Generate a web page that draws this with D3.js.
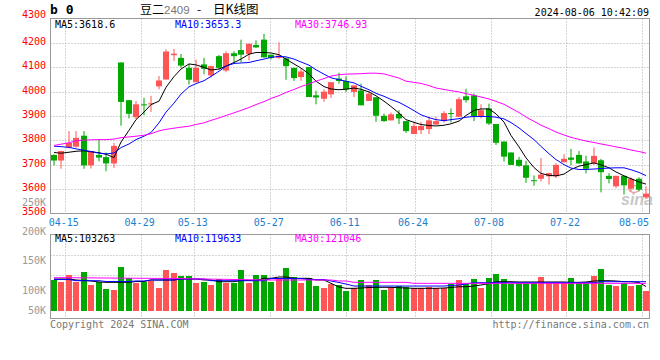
<!DOCTYPE html>
<html><head><meta charset="utf-8">
<script src="https://cdn.jsdelivr.net/npm/d3@7"></script>
<style>body{margin:0;background:#fff}</style>
</head><body><svg id="c" width="660" height="360"></svg>
<script>
const dates = ["04-11","04-12","04-15","04-16","04-17","04-18","04-19","04-22","04-23","04-24","04-25","04-26","04-29","04-30",
"05-06","05-07","05-08","05-09","05-10","05-13","05-14","05-15","05-16","05-17","05-20","05-21","05-22","05-23","05-24","05-27","05-28","05-29","05-30","05-31",
"06-03","06-04","06-05","06-06","06-07","06-11","06-12","06-13","06-14","06-17","06-18","06-19","06-20","06-21","06-24","06-25","06-26","06-27","06-28",
"07-01","07-02","07-03","07-04","07-05","07-08","07-09","07-10","07-11","07-12","07-15","07-16","07-17","07-18","07-19","07-22","07-23","07-24","07-25","07-26","07-29","07-30","07-31",
"08-01","08-02","08-05","08-06"];
const open  = [3740,3717,3771,3774,3819,3697,3740,3731,3705,4120,3965,3895,3948,3949,4022,4050,4150,4139,4098,4039,4112,4067,4146,4087,4158,4171,4155,4192,4214,4152,4139,4137,4098,4060,4101,3985,3971,3989,4054,4044,3999,4005,3962,3977,3901,3882,3909,3879,3826,3842,3846,3865,3879,3912,3897,3981,3985,3899,3931,3867,3795,3750,3720,3697,3636,3642,3652,3652,3710,3729,3740,3713,3706,3718,3654,3611,3654,3601,3642,3566];
const high  = [3742,3757,3838,3838,3838,3757,3805,3750,3790,4121,3966,3961,3975,3983,4065,4174,4176,4155,4114,4132,4139,4107,4151,4166,4166,4214,4197,4211,4238,4152,4203,4141,4098,4094,4101,4004,4010,4039,4078,4063,4026,4033,4003,3977,3910,3914,3924,3879,3876,3876,3897,3897,3920,3931,3978,4012,3992,3948,3951,3867,3795,3750,3732,3716,3656,3727,3667,3706,3743,3765,3756,3737,3771,3724,3665,3654,3654,3648,3648,3611];
const low   = [3697,3683,3767,3770,3683,3684,3713,3673,3687,3860,3890,3887,3903,3917,4010,4050,4126,4098,4029,4039,4071,4057,4091,4080,4121,4121,4128,4180,4140,4132,4135,4049,4044,4045,3978,3948,3958,3974,4033,3999,3978,3944,3962,3876,3876,3882,3867,3831,3826,3826,3826,3863,3873,3873,3897,3955,3879,3890,3863,3781,3713,3699,3691,3625,3613,3631,3618,3645,3709,3697,3705,3664,3699,3586,3623,3604,3577,3590,3590,3559];
const close = [3717,3756,3789,3810,3697,3756,3729,3705,3777,3958,3909,3948,3945,3952,4046,4165,4156,4107,4049,4098,4094,4105,4098,4158,4146,4152,4197,4182,4141,4139,4148,4105,4056,4083,3978,3976,4000,4039,4044,4010,4026,3944,3992,3901,3879,3907,3890,3838,3859,3859,3882,3879,3912,3908,3969,3965,3899,3924,3869,3790,3733,3699,3695,3646,3633,3659,3665,3699,3724,3720,3705,3683,3736,3669,3641,3654,3615,3642,3597,3581];
const ma5  = [3750,3747,3751,3755,3757,3753,3749,3743,3729,3793,3841,3885,3916,3947,3961,4018,4062,4093,4114,4110,4100,4089,4093,4105,4120,4134,4154,4161,4161,4159,4152,4134,4114,4097,4073,4043,4021,4011,4008,4010,4015,4010,3999,3983,3961,3939,3912,3885,3874,3865,3861,3859,3862,3868,3879,3902,3923,3929,3929,3909,3875,3820,3773,3728,3688,3664,3656,3654,3661,3680,3694,3700,3707,3699,3687,3670,3654,3642,3629,3620];
const ma10 = [3776,3774,3771,3765,3759,3754,3747,3744,3748,3770,3785,3803,3817,3832,3872,3916,3953,3990,4020,4033,4045,4063,4084,4105,4116,4118,4120,4127,4134,4141,4145,4143,4134,4122,4109,4090,4072,4057,4049,4043,4036,4022,4008,3993,3981,3968,3956,3941,3922,3905,3893,3885,3881,3885,3889,3895,3898,3898,3898,3895,3888,3873,3851,3828,3803,3775,3745,3721,3700,3686,3680,3680,3682,3684,3686,3687,3687,3679,3668,3655];
const ma30 = [3779,3784,3790,3798,3801,3802,3803,3803,3805,3811,3814,3817,3821,3827,3839,3845,3850,3854,3858,3865,3872,3882,3892,3902,3913,3923,3935,3947,3959,3972,3984,3997,4009,4021,4032,4043,4054,4064,4070,4072,4073,4074,4076,4076,4073,4065,4056,4043,4038,4034,4025,4015,4009,4004,3999,3992,3985,3978,3970,3960,3948,3932,3914,3896,3878,3862,3848,3834,3822,3812,3804,3797,3791,3785,3779,3773,3767,3760,3754,3747];
const volume = [117100,114200,125600,114200,130700,108500,114200,101700,100000,139200,120000,112500,114200,116200,103800,134100,129500,123900,123900,112500,114200,108500,118800,112500,112500,134100,112500,125600,125600,114200,120000,137500,121800,112500,120000,106800,103900,109700,108900,98600,102900,117100,108500,117100,100000,104300,106800,105100,103900,103900,105600,103900,103900,109700,117100,109700,118800,103900,120000,127300,118800,109700,112500,112500,112500,122200,111400,111400,111400,120000,112500,112500,123900,135800,108500,106800,112500,106800,108500,98300];
const volMa5 = [118800,118800,118800,117100,116200,115400,113700,113100,113100,113100,113100,114500,114500,117100,117100,117100,117100,118800,118800,118800,117100,117100,114200,114200,114200,116200,116200,116200,120000,120000,122200,122200,120000,120000,120000,117100,117100,111400,105100,102900,102900,103400,104300,104600,104600,104600,103900,103400,102900,102900,102900,102900,103400,104300,105600,105600,106800,108500,111100,114200,114200,114200,113700,113700,113700,113700,113700,113700,113700,113100,113100,113700,115400,115900,115900,115400,114200,114200,112800,106000];
const volMa10 = [117900,117900,117900,115900,115900,115900,115900,114500,114500,114500,114500,115400,115400,117100,117100,117100,117100,118800,118800,118800,118800,115900,115900,115900,115900,115900,115900,115900,115900,119600,119600,119600,119600,119600,117900,117900,117900,115400,112800,110200,106800,106800,106800,106800,106800,106800,106800,106800,106800,106800,106800,106800,106800,107700,108500,110200,112500,112500,112500,112500,112500,112500,112500,112500,112500,112500,112500,112500,112500,112500,112500,112500,112500,114200,114200,114200,114200,114200,114200,114200];
const volMa30 = [121000,121000,121000,120900,120800,120700,120600,120500,120400,120300,120200,120100,120000,119900,119800,119700,119600,119500,119200,119000,118800,118600,118400,118200,118000,117800,117600,117400,117200,117100,117100,117100,117100,117100,117100,117100,117100,117100,115400,115400,113100,113100,113100,113100,113100,113100,113100,113100,111400,111400,111400,111400,111400,111400,111400,111400,111400,111400,111400,111400,111400,111400,111400,111400,111400,111400,111400,111400,111400,111400,111400,111400,111400,111400,111400,111400,111400,111400,111400,111400];
const priceTicks = [3500,3600,3700,3800,3900,4000,4100,4200,4300];
const volTicks = [50000,100000,150000,200000,250000];
const volTickLabels = ["50K","100K","150K","200K","250K"];
const dateTicks = ["04-15","04-29","05-13","05-27","06-11","06-24","07-08","07-22","08-05"];
const priceLegend = ["MA5:3618.6","MA10:3653.3","MA30:3746.93"];
const volLegend = ["MA5:103263","MA10:119633","MA30:121046"];
const legendColors = ["#000","#0000ff","#ff00ff"];
const titleParts = ["豆二","2409","-","日K线图"];
const stamp = "2024-08-06 10:42:09";

const RED = "#ff5555", GREEN = "#00a800", GRID = "#aaaaaa", FRAME = "#999999";
const mono = "'DejaVu Sans Mono', monospace";
const svg = d3.select('#c');
svg.append('rect').attr('width',660).attr('height',360).attr('fill','#fff');

const L = 50.5, R = 649.5, T = 18.5, B = 213.5, VT = 234.5, VB = 318.5, VBASE = 310.7;
const x = d3.scaleBand().domain(dates).range([50,650]).paddingInner(0.2).paddingOuter(0.1);
const xg = d3.scalePoint().domain(dates).range([50,650]);
const y = d3.scaleLinear().domain([3500,4300]).range([213.3,18.7]);
const yv = d3.scaleLinear().domain([64700,195600]).range([VBASE,234]);
const vg = d3.scaleLinear().domain([0,4]).range([234.3,316.3]);

const defs = svg.append('defs');
defs.append('clipPath').attr('id','cp').append('rect').attr('x',L).attr('y',T).attr('width',R-L).attr('height',B-T);
defs.append('clipPath').attr('id','cv').append('rect').attr('x',L).attr('y',VT).attr('width',R-L).attr('height',VB-VT);

// grids
const g = svg.append('g');
g.selectAll('.hg').data(priceTicks.filter(v=>v>3500 && v<4300)).join('line')
  .attr('x1',L).attr('x2',R).attr('y1',d=>Math.round(y(d))+0.5).attr('y2',d=>Math.round(y(d))+0.5)
  .attr('stroke',GRID).attr('stroke-dasharray','1,2');
g.selectAll('.vg').data(dateTicks).join('line')
  .attr('x1',d=>Math.round(xg(d))+0.5).attr('x2',d=>Math.round(xg(d))+0.5).attr('y1',T).attr('y2',B)
  .attr('stroke',GRID).attr('stroke-dasharray','1,2');
g.selectAll('.vg2').data(dateTicks).join('line')
  .attr('x1',d=>Math.round(xg(d))+0.5).attr('x2',d=>Math.round(xg(d))+0.5).attr('y1',VT).attr('y2',VB)
  .attr('stroke',GRID).attr('stroke-dasharray','1,2');
g.selectAll('.vhg').data([1,2,3]).join('line')
  .attr('x1',L).attr('x2',R).attr('y1',d=>Math.round(vg(d))+0.5).attr('y2',d=>Math.round(vg(d))+0.5)
  .attr('stroke',GRID).attr('stroke-dasharray','1,2');

// watermark
svg.append('text').attr('x',621).attr('y',205).attr('font-family','Arial, sans-serif').attr('font-size',16)
  .attr('font-style','italic').attr('font-weight','bold').attr('fill','#c8c8c8').text('sina');
svg.append('ellipse').attr('cx',634).attr('cy',189).attr('rx',5).attr('ry',3.5).attr('fill','none').attr('stroke','#e8a0a0').attr('stroke-width',1.5);

// candles
const idx = d3.range(dates.length);
const cx = i => Math.round(x(dates[i]));
const cg = svg.append('g').attr('clip-path','url(#cp)');
cg.selectAll('.wick').data(idx).join('rect')
  .attr('x',i=>cx(i)+2.5).attr('width',1)
  .attr('y',i=>y(high[i])).attr('height',i=>Math.max(1,y(low[i])-y(high[i])))
  .attr('fill',i=>close[i]>=open[i]?RED:GREEN);
cg.selectAll('.body').data(idx).join('rect')
  .attr('x',i=>cx(i)).attr('width',x.bandwidth())
  .attr('y',i=>y(Math.max(open[i],close[i])))
  .attr('height',i=>Math.max(1,Math.abs(y(open[i])-y(close[i]))))
  .attr('fill',i=>close[i]>=open[i]?RED:GREEN);

const lineP = arr => d3.line().x((d,i)=>cx(i)+3).y(d=>y(d))(arr);
[ma5,ma10,ma30].forEach((a,k)=>{
  cg.append('path').attr('d',lineP(a)).attr('fill','none').attr('stroke',legendColors[k]).attr('stroke-width',1);
});

// volume
const vgp = svg.append('g').attr('clip-path','url(#cv)');
vgp.selectAll('.vb').data(idx).join('rect')
  .attr('x',i=>cx(i)).attr('width',x.bandwidth())
  .attr('y',i=>Math.round(yv(volume[i]))).attr('height',i=>Math.round(VBASE)-Math.round(yv(volume[i])))
  .attr('fill',i=>close[i]>=open[i]?RED:GREEN);
const lineV = arr => d3.line().x((d,i)=>cx(i)+3).y(d=>yv(d))(arr);
[volMa5,volMa10,volMa30].forEach((a,k)=>{
  vgp.append('path').attr('d',lineV(a)).attr('fill','none').attr('stroke',legendColors[k]).attr('stroke-width',1);
});

// frames
svg.append('rect').attr('x',L).attr('y',T).attr('width',R-L).attr('height',B-T).attr('fill','none').attr('stroke',FRAME);
svg.append('rect').attr('x',L).attr('y',VT).attr('width',R-L).attr('height',VB-VT).attr('fill','none').attr('stroke',FRAME);

// axis labels
const topTick = priceTicks[priceTicks.length-1];
svg.selectAll('.pl').data(priceTicks).join('text')
  .attr('x',46).attr('y',d=>d===topTick ? y(d)-0.5 : y(d)+2).attr('text-anchor','end')
  .attr('font-family',mono).attr('font-size',10).attr('fill','#ff0000').text(d=>d);
svg.selectAll('.vl').data(volTicks).join('text')
  .attr('x',46).attr('y',d=>Math.min(yv(d),310)+3.5).attr('text-anchor','end')
  .attr('font-family',mono).attr('font-size',10).attr('fill','#999').text((d,i)=>volTickLabels[i]);
svg.selectAll('.xl').data(dateTicks).join('text')
  .attr('x',d=>Math.min(xg(d)-1.5, 649-15)).attr('y',225.5).attr('text-anchor','middle')
  .attr('font-family',mono).attr('font-size',10).attr('fill','#1a7fd0').text(d=>d);

// legends
const legX = [55,175,295];
priceLegend.forEach((t,k)=>svg.append('text').attr('x',legX[k]).attr('y',27.5)
  .attr('font-family',mono).attr('font-size',10).attr('fill',legendColors[k]).text(t));
volLegend.forEach((t,k)=>svg.append('text').attr('x',legX[k]).attr('y',242)
  .attr('font-family',mono).attr('font-size',10).attr('fill',legendColors[k]).text(t));

// header
svg.append('text').attr('x',50).attr('y',14).attr('font-family',mono).attr('font-size',13)
  .attr('font-weight','bold').attr('fill','#000').text('b 0');
const cjk = "'Noto Sans CJK SC', sans-serif";
svg.append('text').attr('x',140).attr('y',14).attr('font-family',cjk).attr('font-size',12).attr('fill','#000').text(titleParts[0]);
svg.append('text').attr('x',164).attr('y',14).attr('font-family','Arial, sans-serif').attr('font-size',11.5).attr('fill','#777').text(titleParts[1]);
svg.append('text').attr('x',197).attr('y',14).attr('font-family',cjk).attr('font-size',12).attr('fill','#000').text(titleParts[2]);
svg.append('text').attr('x',213).attr('y',14).attr('font-family',cjk).attr('font-size',12.5).attr('fill','#000').text(titleParts[3]);
svg.append('text').attr('x',649).attr('y',15.5).attr('text-anchor','end')
  .attr('font-family',mono).attr('font-size',10).attr('fill','#000').text(stamp);

// footer
svg.append('text').attr('x',50).attr('y',327.5).attr('font-family',mono).attr('font-size',10)
  .attr('fill','#777').text('Copyright 2024 SINA.COM');
svg.append('text').attr('x',649).attr('y',327.5).attr('text-anchor','end').attr('font-family',mono).attr('font-size',10)
  .attr('fill','#777').text('http://finance.sina.com.cn');
</script></body></html>
